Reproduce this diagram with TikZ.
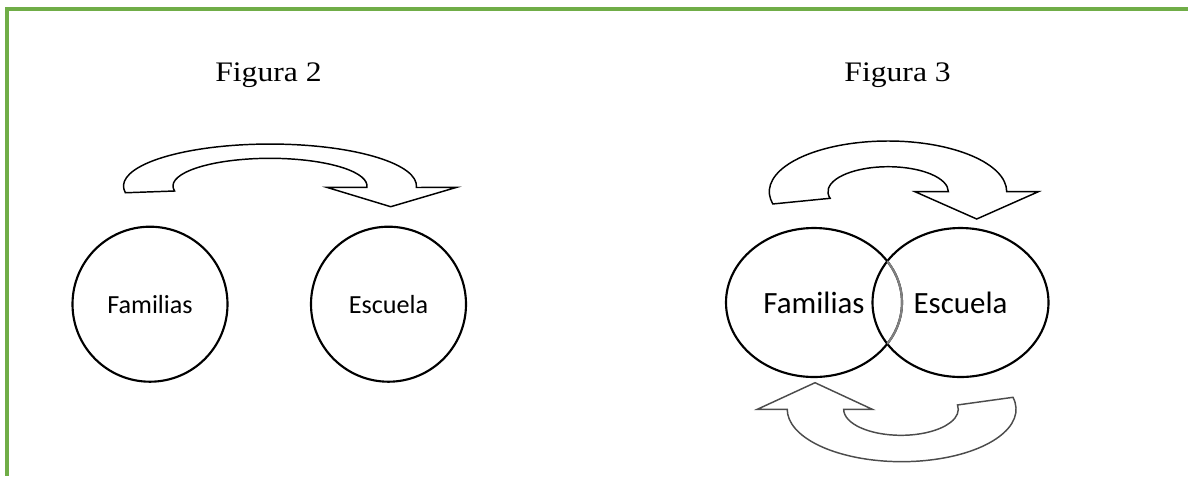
\documentclass[tikz,border=0pt]{standalone}
\usepackage{fontspec}
\setmainfont{Liberation Serif}
\newfontfamily\titlefont[FakeStretch=1.12]{Liberation Serif}
\newfontfamily\labelfont{Carlito}
\usetikzlibrary{shapes.geometric}
\definecolor{framegreen}{RGB}{112,173,71}

\begin{document}
\begin{tikzpicture}[x=0.75pt, y=-0.75pt,
    title/.style={anchor=base, font=\titlefont\fontsize{21.2}{25}\selectfont},
    circ/.style={draw, line width=1.6pt, circle, minimum size=116.25pt, inner sep=0pt,
        font=\labelfont\fontsize{19.6}{23}\selectfont},
    oval/.style={draw, line width=1.6pt, ellipse, minimum width=132pt, minimum height=111.75pt,
        inner sep=0pt, font=\labelfont\fontsize{23.2}{28}\selectfont},
    blockarrow/.style={draw, line width=1.1pt, line join=miter}]
    \useasboundingbox (0,0) rectangle (1188,476);
    % Frame
    \draw[framegreen, line width=2.4pt] (1188,9) -| (7,476);
    % Titles
    \node[title] (t2) at (268.5,81.7) {Figura 2};
    \node[title] (t3) at (897.6,81.7) {Figura 3};
    % Figura 2: separate circles
    \node[circ] (fam2) at (150,304.2) {Familias};
    \node[circ] (esc2) at (388.5,304.2) {Escuela};
    \draw[blockarrow] (416.4,187.5) arc[start angle=2, end angle=-189.2, x radius=146.5, y radius=42]
        -- (174.6,191) arc[start angle=-190.4, end angle=2.7, x radius=97, y radius=27.7]
        -- (326.7,187.3) -- (390.7,206.7) -- (456.7,187.3) -- cycle;
    % Figura 3: overlapping ellipses
    \node[oval] (fam3) at (814,302.5) {Familias};
    \node[oval] (esc3) at (960.5,302.5) {Escuela};
    \begin{scope}
        \clip (esc3.center) ellipse [x radius=88, y radius=74.5];
        \draw[gray, line width=1.6pt] (fam3.center) ellipse [x radius=88, y radius=74.5];
    \end{scope}
    \draw[blockarrow] (1006.7,191.7) arc[start angle=0, end angle=-194, x radius=118.7, y radius=50.7]
        -- (830.1,198.3) arc[start angle=-195.3, end angle=0, x radius=60.2, y radius=25]
        -- (915,191.7) -- (976.7,219) -- (1038.3,191.7) -- cycle;
    % return arrow
    \draw[blockarrow, black!70] (815,382.7) -- (872.3,409.3) -- (843.7,409.3)
        arc[start angle=180, end angle=-9.6, x radius=57.3, y radius=26]
        -- (1013,397.3) arc[start angle=-13.2, end angle=180, x radius=114.4, y radius=52.4]
        -- (757.3,409.3) -- cycle;
\end{tikzpicture}
\end{document}
